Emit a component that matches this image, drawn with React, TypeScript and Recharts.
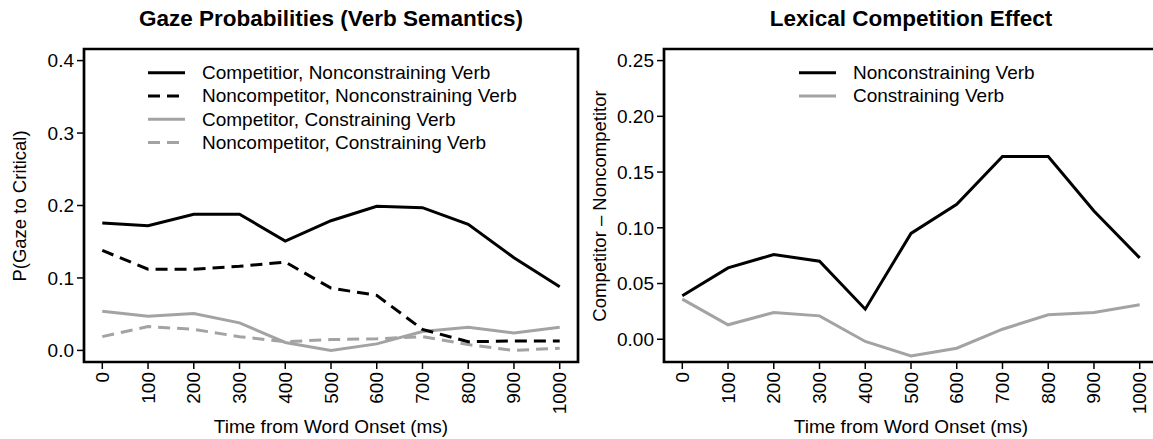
import { LineChart, Line, XAxis, YAxis, ReferenceArea } from "recharts"

const FONT = '"Liberation Sans", Arial, Helvetica, sans-serif'
const GRAY = "#a3a3a3"

const times = [0, 100, 200, 300, 400, 500, 600, 700, 800, 900, 1000]

// left panel: gaze probabilities
const compNonconstraining = [0.176, 0.172, 0.188, 0.188, 0.151, 0.179, 0.199, 0.197, 0.174, 0.128, 0.088]
const noncompNonconstraining = [0.138, 0.112, 0.112, 0.116, 0.122, 0.086, 0.076, 0.029, 0.012, 0.013, 0.013]
const compConstraining = [0.054, 0.047, 0.051, 0.038, 0.011, 0.0, 0.009, 0.026, 0.032, 0.024, 0.032]
const noncompConstraining = [0.019, 0.033, 0.029, 0.019, 0.012, 0.015, 0.016, 0.019, 0.008, 0.0, 0.003]

// right panel: competitor - noncompetitor
const effectNonconstraining = [0.039, 0.064, 0.076, 0.07, 0.027, 0.095, 0.121, 0.164, 0.164, 0.115, 0.073]
const effectConstraining = [0.036, 0.013, 0.024, 0.021, -0.002, -0.015, -0.008, 0.009, 0.022, 0.024, 0.031]

const leftTicks = [0, 0.1, 0.2, 0.3, 0.4]
const rightTicks = [0, 0.05, 0.1, 0.15, 0.2, 0.25]

const gazeData = times.map((t, i) => ({
  t,
  cn: compNonconstraining[i],
  nn: noncompNonconstraining[i],
  cc: compConstraining[i],
  nc: noncompConstraining[i],
}))

const effectData = times.map((t, i) => ({
  t,
  non: effectNonconstraining[i],
  con: effectConstraining[i],
}))

const X_DOMAIN: [number, number] = [-40, 1040]
const LEFT_Y: [number, number] = [-0.016, 0.416]
const RIGHT_Y: [number, number] = [-0.0204, 0.2604]

const XTick = (props: any) => {
  const { x, y, payload } = props
  return (
    <text
      x={x}
      y={y}
      transform={`rotate(-90 ${x} ${y})`}
      textAnchor="end"
      dominantBaseline="central"
      fontSize={19}
      fontFamily={FONT}
      fill="#000"
    >
      {payload.value}
    </text>
  )
}

const tickLine = { stroke: "#000", strokeWidth: 1.5 }
const yTick = { fill: "#000", fontSize: 19, fontFamily: FONT }

function Legend({ items, left, top, lineLen, textGap, rowH }: {
  items: { label: string; color: string; dash?: string }[]
  left: number; top: number; lineLen: number; textGap: number; rowH: number
}) {
  return (
    <svg style={{ position: "absolute", left, top }} width={420} height={items.length * rowH + 4}>
      {items.map((it, i) => {
        const cy = rowH / 2 + i * rowH
        return (
          <g key={it.label}>
            <line x1={0} x2={lineLen} y1={cy} y2={cy} stroke={it.color} strokeWidth={3} strokeDasharray={it.dash} />
            <text x={lineLen + textGap} y={cy} dominantBaseline="central" fontSize={19} fontFamily={FONT} fill="#000">
              {it.label}
            </text>
          </g>
        )
      })}
    </svg>
  )
}

const abs = (s: any) => ({ position: "absolute" as const, whiteSpace: "nowrap" as const, ...s })

export default function App() {
  return (
    <div style={{ position: "absolute", left: 0, top: 0, width: 1153, height: 439, overflow: "hidden", background: "#fff", fontFamily: FONT, color: "#000" }}>
      <div style={abs({ left: 331, top: 19, transform: "translate(-50%, -50%)", fontSize: 22.5, fontWeight: "bold" })}>
        Gaze Probabilities (Verb Semantics)
      </div>
      <div style={abs({ left: 911, top: 19, transform: "translate(-50%, -50%)", fontSize: 22.5, fontWeight: "bold" })}>
        Lexical Competition Effect
      </div>

      <div style={{ position: "absolute", left: 0, top: 0 }}>
        <LineChart width={580} height={439} data={gazeData} margin={{ top: 49, right: 2, bottom: 0, left: 0 }}>
          <XAxis type="number" dataKey="t" domain={X_DOMAIN} ticks={times} interval={0} height={77}
            tickSize={7} tickMargin={3} axisLine={false} tickLine={tickLine} tick={<XTick />} allowDataOverflow />
          <YAxis type="number" domain={LEFT_Y} ticks={leftTicks} interval={0} width={84}
            tickSize={7} tickMargin={3} axisLine={false} tickLine={tickLine} tick={yTick}
            tickFormatter={(v: number) => v.toFixed(1)} allowDataOverflow />
          <ReferenceArea x1={X_DOMAIN[0]} x2={X_DOMAIN[1]} y1={LEFT_Y[0]} y2={LEFT_Y[1]} fill="none" stroke="#000" strokeWidth={2.7} />
          <Line type="linear" dataKey="cc" stroke={GRAY} strokeWidth={3} dot={false} isAnimationActive={false} />
          <Line type="linear" dataKey="nc" stroke={GRAY} strokeWidth={3} strokeDasharray="12 7" dot={false} isAnimationActive={false} />
          <Line type="linear" dataKey="cn" stroke="#000" strokeWidth={3} dot={false} isAnimationActive={false} />
          <Line type="linear" dataKey="nn" stroke="#000" strokeWidth={3} strokeDasharray="12 7" dot={false} isAnimationActive={false} />
        </LineChart>
      </div>

      <div style={{ position: "absolute", left: 580, top: 0, width: 573, height: 439, overflow: "hidden" }}>
        <LineChart width={580} height={439} data={effectData} margin={{ top: 49, right: 2, bottom: 0, left: 0 }}>
          <XAxis type="number" dataKey="t" domain={X_DOMAIN} ticks={times} interval={0} height={77}
            tickSize={7} tickMargin={3} axisLine={false} tickLine={tickLine} tick={<XTick />} allowDataOverflow />
          <YAxis type="number" domain={RIGHT_Y} ticks={rightTicks} interval={0} width={84}
            tickSize={7} tickMargin={3} axisLine={false} tickLine={tickLine} tick={yTick}
            tickFormatter={(v: number) => v.toFixed(2)} allowDataOverflow />
          <ReferenceArea x1={X_DOMAIN[0]} x2={X_DOMAIN[1]} y1={RIGHT_Y[0]} y2={RIGHT_Y[1]} fill="none" stroke="#000" strokeWidth={2.7} />
          <Line type="linear" dataKey="con" stroke={GRAY} strokeWidth={3} dot={false} isAnimationActive={false} />
          <Line type="linear" dataKey="non" stroke="#000" strokeWidth={3} dot={false} isAnimationActive={false} />
        </LineChart>
      </div>

      <Legend
        left={148} top={60.6} lineLen={37} textGap={17} rowH={23.3}
        items={[
          { label: "Competitior, Nonconstraining Verb", color: "#000" },
          { label: "Noncompetitor, Nonconstraining Verb", color: "#000", dash: "12 7" },
          { label: "Competitor, Constraining Verb", color: GRAY },
          { label: "Noncompetitor, Constraining Verb", color: GRAY, dash: "12 7" },
        ]}
      />
      <Legend
        left={799} top={60.6} lineLen={37} textGap={17} rowH={23.3}
        items={[
          { label: "Nonconstraining Verb", color: "#000" },
          { label: "Constraining Verb", color: GRAY },
        ]}
      />

      <div style={abs({ left: 20, top: 206, transform: "translate(-50%, -50%) rotate(-90deg)", fontSize: 18.5 })}>
        P(Gaze to Critical)
      </div>
      <div style={abs({ left: 600, top: 206, transform: "translate(-50%, -50%) rotate(-90deg)", fontSize: 18.5 })}>
        Competitor – Noncompetitor
      </div>
      <div style={abs({ left: 331, top: 427, transform: "translate(-50%, -50%)", fontSize: 19 })}>
        Time from Word Onset (ms)
      </div>
      <div style={abs({ left: 911, top: 427, transform: "translate(-50%, -50%)", fontSize: 19 })}>
        Time from Word Onset (ms)
      </div>
    </div>
  )
}
